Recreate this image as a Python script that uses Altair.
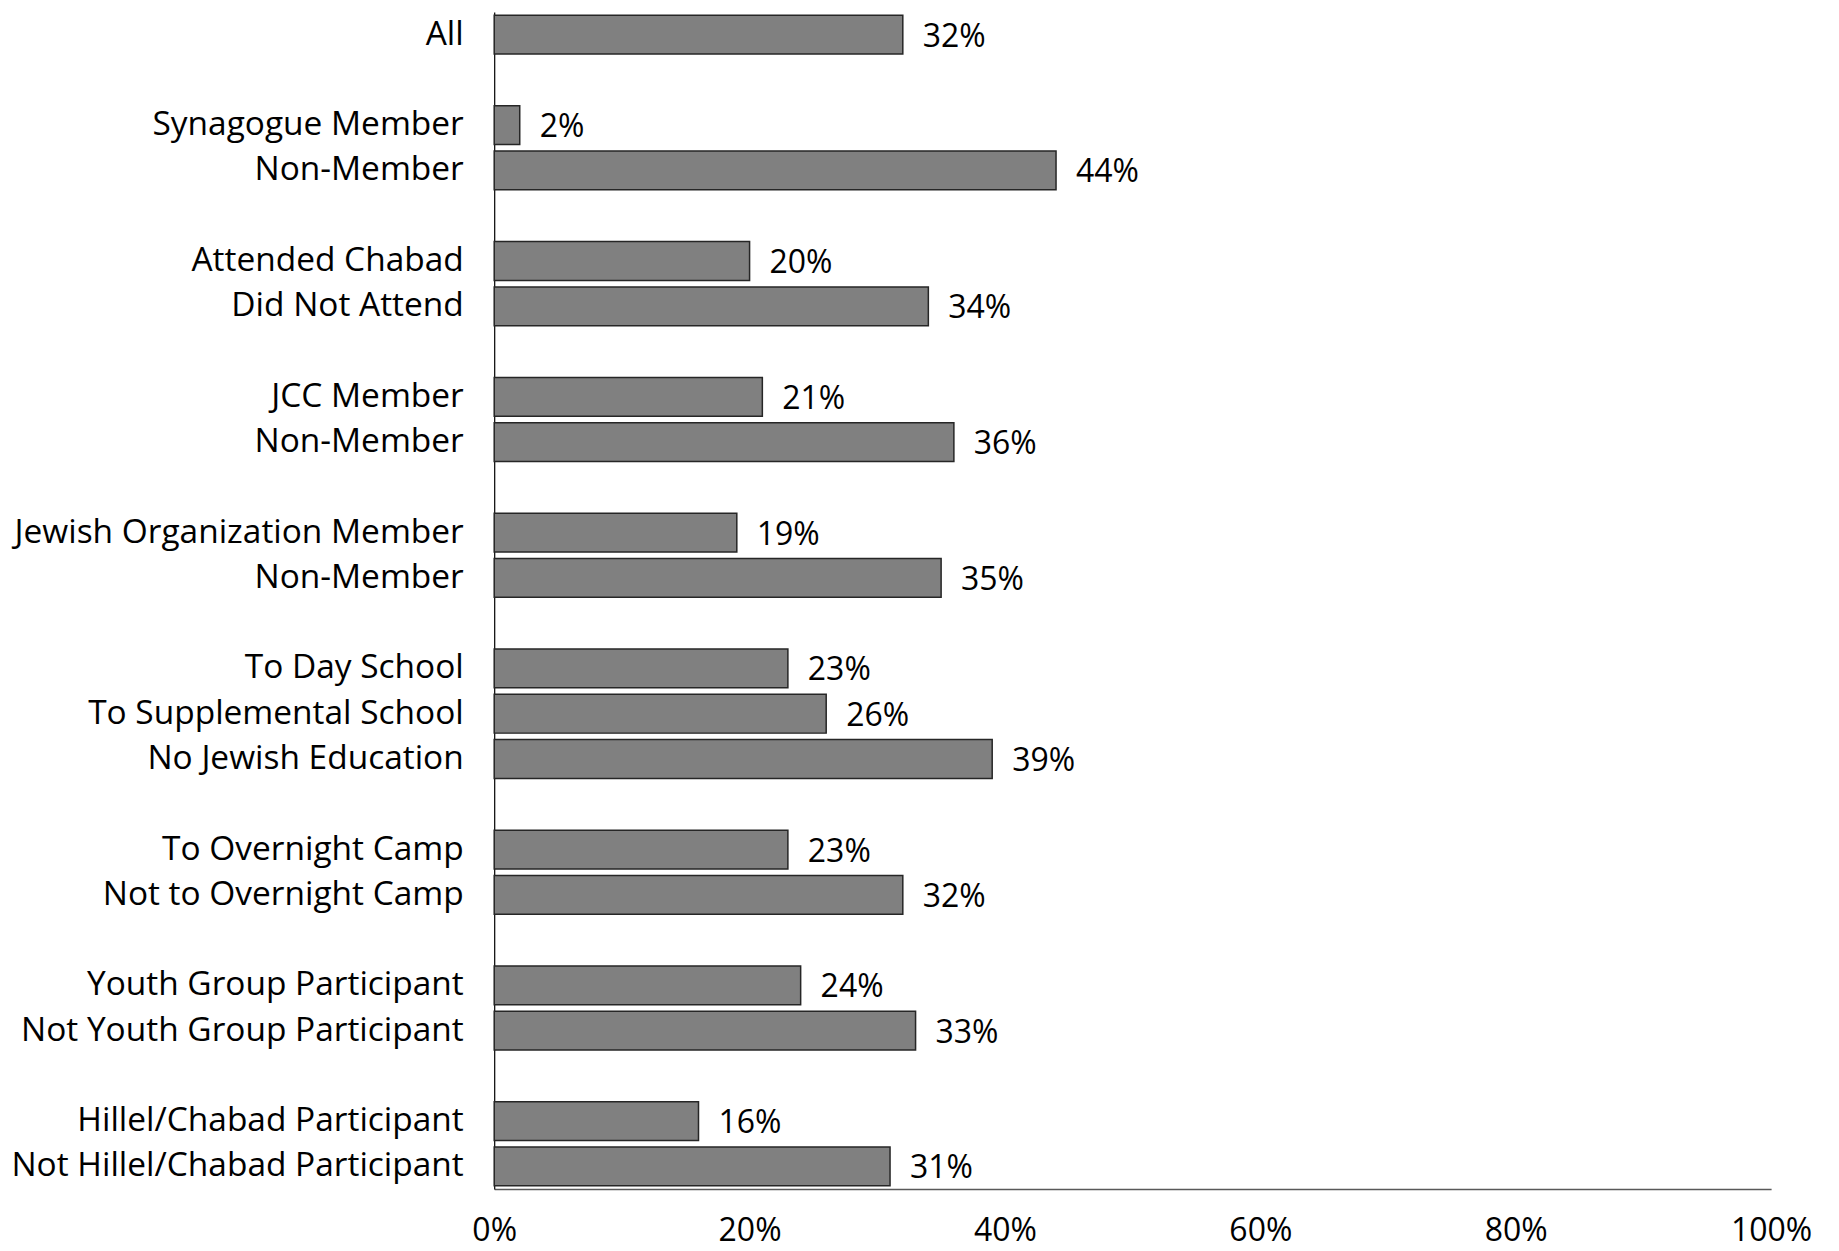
import altair as alt
import pandas as pd

groups = [
    ["All"],
    ["Synagogue Member", "Non-Member"],
    ["Attended Chabad", "Did Not Attend"],
    ["JCC Member", "Non-Member"],
    ["Jewish Organization Member", "Non-Member"],
    ["To Day School", "To Supplemental School", "No Jewish Education"],
    ["To Overnight Camp", "Not to Overnight Camp"],
    ["Youth Group Participant", "Not Youth Group Participant"],
    ["Hillel/Chabad Participant", "Not Hillel/Chabad Participant"],
]
values = [[32], [2, 44], [20, 34], [21, 36], [19, 35], [23, 26, 39], [23, 32], [24, 33], [16, 31]]
x_ticks = [0, 0.2, 0.4, 0.6, 0.8, 1.0]

rows = []
labels = []
idx = 0
for gi, (g, v) in enumerate(zip(groups, values)):
    if gi > 0:
        labels.append("")
        idx += 1
    for name, val in zip(g, v):
        labels.append(name)
        rows.append({"idx": idx, "label": name, "value": val / 100, "text": f"{val}%"})
        idx += 1

df = pd.DataFrame(rows)
n_rows = len(labels)
label_expr = "[" + ",".join("'" + s.replace("'", "\\'") + "'" for s in labels) + "][datum.value]"

FONT = "Open Sans"
FS = 33.5

y_enc = alt.Y(
    "idx:O",
    scale=alt.Scale(domain=list(range(n_rows)), paddingInner=0.143, paddingOuter=0.0715),
    axis=alt.Axis(
        title=None,
        labelExpr=label_expr,
        ticks=False,
        domain=True,
        domainColor="#000000",
        domainWidth=1.2,
        labelPadding=31,
        labelFontSize=FS,
        labelFont=FONT,
        labelColor="#000000",
        labelLimit=600,
    ),
)
x_enc = alt.X(
    "value:Q",
    scale=alt.Scale(domain=[0, 1], nice=False),
    axis=alt.Axis(
        title=None,
        values=x_ticks,
        format=".0%",
        ticks=False,
        grid=False,
        domain=True,
        domainColor="#595959",
        domainWidth=1.5,
        labelPadding=27,
        labelFontSize=32,
        labelFont=FONT,
        labelColor="#000000",
        labelFlush=False,
    ),
)

bars = alt.Chart(df).mark_bar(
    color="#808080", stroke="#262626", strokeWidth=1.5
).encode(x=x_enc, y=y_enc)

text = alt.Chart(df).mark_text(
    align="left", baseline="middle", dx=20, dy=2, fontSize=32, font=FONT, color="#000000"
).encode(x="value:Q", y="idx:O", text="text:N")

chart = (
    (bars + text)
    .properties(
        width=1279,
        height=1179,
        autosize=alt.AutoSizeParams(type="none"),
        padding={"left": 487, "top": 3, "right": 60, "bottom": 61},
    )
    .configure_view(strokeWidth=0, stroke="transparent")
)

chart.save("out.html", embed_options={"renderer": "svg", "actions": False})
